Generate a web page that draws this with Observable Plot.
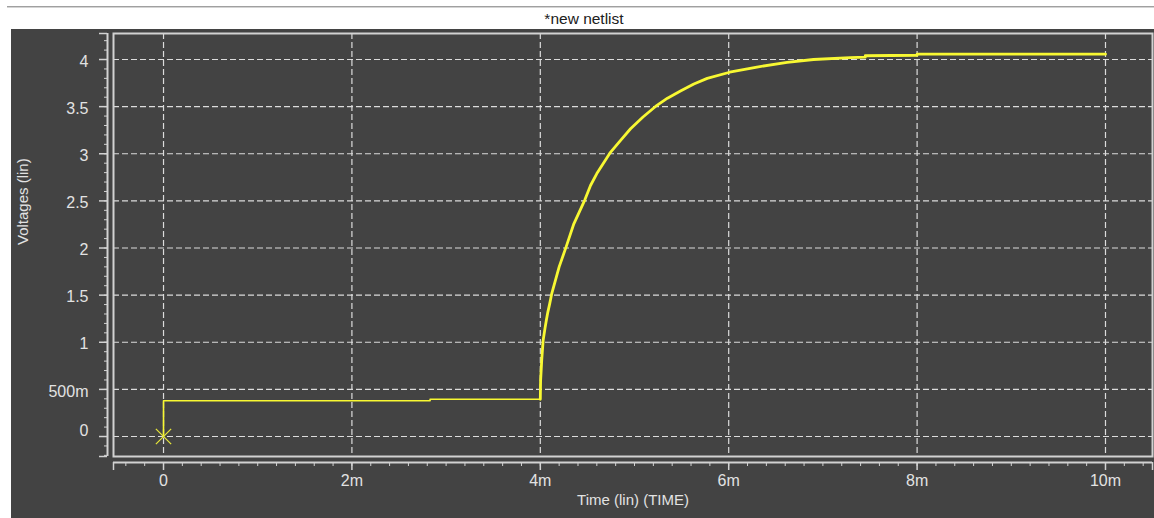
<!DOCTYPE html>
<html>
<head>
<meta charset="utf-8">
<script src="https://cdn.jsdelivr.net/npm/d3@7"></script>
<script src="https://cdn.jsdelivr.net/npm/@observablehq/plot@0.6"></script>
<style>
  html, body { margin: 0; padding: 0; background: #ffffff; width: 1154px; height: 518px; overflow: hidden; }
  #topline1 { position: absolute; left: 7px; top: 6px; width: 1147px; height: 1px; background: #a0a0a0; }
  #topline2 { position: absolute; left: 7px; top: 7px; width: 1147px; height: 1px; background: #d4d4d4; }
  #title { position: absolute; left: 0; top: 10px; width: 1168px; text-align: center; font-family: "Liberation Sans", Arial, sans-serif; font-size: 15.5px; color: #202020; line-height: 18px; }
  #chart { position: absolute; left: 11px; top: 29px; }
  #chart svg { display: block; }
</style>
</head>
<body>
<div id="topline1"></div>
<div id="topline2"></div>
<div id="title">*new netlist</div>
<div id="chart"></div>
<script>
// ---- data (time in ms, voltage in V) ----
const timeMs = [0, 0, 2.83, 2.83, 4.0, 4.003, 4.015, 4.03, 4.05, 4.065, 4.08, 4.10, 4.12, 4.2, 4.275, 4.356, 4.473, 4.533, 4.6, 4.738, 4.85, 4.958, 5.09, 5.223, 5.35, 5.488, 5.63, 5.772, 6.01, 6.30, 6.62, 6.90, 7.29, 7.45, 7.45, 8.0, 8.0, 9.0, 10.0];
const volts  = [0, 0.38, 0.38, 0.395, 0.395, 0.59, 0.81, 1.02, 1.15, 1.24, 1.32, 1.41, 1.51, 1.80, 2.015, 2.257, 2.511, 2.663, 2.79, 3.006, 3.14, 3.265, 3.39, 3.502, 3.59, 3.665, 3.74, 3.80, 3.865, 3.92, 3.97, 4.0, 4.02, 4.025, 4.04, 4.045, 4.057, 4.057, 4.057];
const riseStartIndex = 4;

const xTickValues = [0, 2, 4, 6, 8, 10];
const xTickLabels = ["0", "2m", "4m", "6m", "8m", "10m"];
const yTickValues = [0, 0.5, 1, 1.5, 2, 2.5, 3, 3.5, 4];
const yTickLabels = ["0", "500m", "1", "1.5", "2", "2.5", "3", "3.5", "4"];
const xMinorTicks = d3.range(-2, 53).map(i => i * 0.2);   // every 0.2m
const yMinorTicks = d3.range(-2, 43).map(i => i * 0.1);   // every 0.1 V
const xLabel = "Time (lin) (TIME)";
const yLabel = "Voltages (lin)";

const xDomain = [-0.531, 10.499];
const yDomain = [-0.212, 4.276];

const points = timeMs.map((t, i) => ({t, v: volts[i], i}));
const flatPts = points.filter(p => p.i <= riseStartIndex);
const risePts = points.filter(p => p.i >= riseStartIndex);

const light = "#d2d2d2";
const textCol = "#e2e2e2";
const yellow = "#f8f832";

const chart = Plot.plot({
  width: 1143,
  height: 489,
  marginLeft: 102,
  marginRight: 2,
  marginTop: 4,
  marginBottom: 62,
  x: {domain: xDomain, axis: null},
  y: {domain: yDomain, axis: null},
  style: {background: "#434343", color: textCol, fontFamily: "'Liberation Sans', Arial, sans-serif", fontSize: "16px"},
  marks: [
    Plot.gridX(xTickValues, {stroke: "#dcdcdc", strokeOpacity: 1, strokeWidth: 1.2, strokeDasharray: "6,3"}),
    Plot.gridY(yTickValues, {stroke: "#dcdcdc", strokeOpacity: 1, strokeWidth: 1.2, strokeDasharray: "6,3"}),
    Plot.frame({stroke: light, strokeWidth: 2}),
    // x axis line + ticks
    Plot.ruleY([yDomain[0]], {dy: 6, stroke: light, strokeWidth: 2}),
    Plot.axisX(xMinorTicks.filter(d => d > xDomain[0] && d < xDomain[1]), {tickSize: 4, dy: 6, stroke: light, tickFormat: () => "", label: null}),
    Plot.axisX(xTickValues.concat(xDomain), {tickSize: 8, dy: 6, stroke: light, strokeWidth: 1.5, tickFormat: () => "", label: null}),
    // y axis line + ticks
    Plot.ruleX([xDomain[0]], {dx: -6, stroke: light, strokeWidth: 2}),
    Plot.axisY(yMinorTicks.filter(d => d > yDomain[0] && d < yDomain[1]), {tickSize: 3, dx: -6, stroke: light, tickFormat: () => "", label: null}),
    Plot.axisY(yTickValues.concat(yDomain), {tickSize: 8, dx: -6, stroke: light, strokeWidth: 1.5, tickFormat: () => "", label: null}),
    // tick labels
    Plot.text(xTickValues, {x: d => d, text: (d, i) => xTickLabels[i], frameAnchor: "bottom", dy: 29, fill: textCol, fontSize: 16}),
    Plot.text(yTickValues.slice(1), {y: d => d, text: (d, i) => yTickLabels[i + 1], frameAnchor: "left", textAnchor: "end", dx: -25, dy: 2, fill: textCol, fontSize: 16}),
    Plot.text(yTickValues.slice(0, 1), {y: d => d, text: (d, i) => yTickLabels[i], frameAnchor: "left", textAnchor: "end", dx: -25, dy: -6, fill: textCol, fontSize: 16}),
    // axis titles
    Plot.text([xLabel], {text: d => d, frameAnchor: "bottom", dy: 48, fill: textCol, fontSize: 15}),
    Plot.text([yLabel], {text: d => d, frameAnchor: "left", dx: -90, rotate: -90, fill: textCol, fontSize: 15}),
    // waveform
    Plot.line(flatPts, {x: "t", y: "v", stroke: yellow, strokeWidth: 1.6}),
    Plot.line(risePts, {x: "t", y: "v", stroke: yellow, strokeWidth: 2.8}),
    Plot.dot(points.slice(0, 1), {x: "t", y: "v", symbol: "times", r: 7, stroke: "#e6e63a", strokeWidth: 1.3})
  ]
});
document.getElementById("chart").appendChild(chart);
</script>
</body>
</html>
